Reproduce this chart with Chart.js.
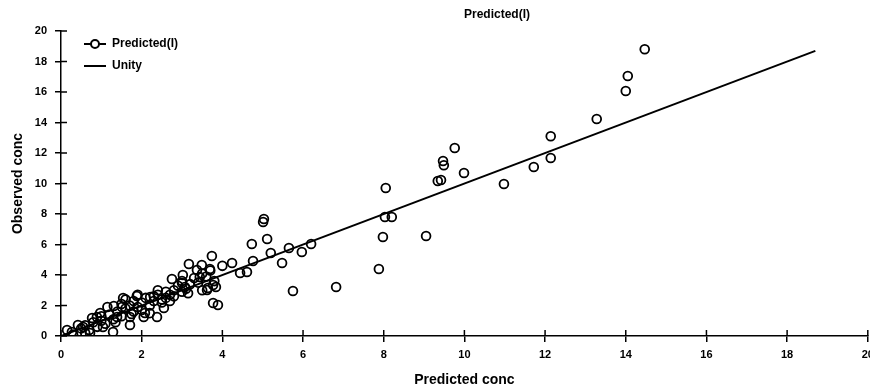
<!DOCTYPE html>
<html>
<head>
<meta charset="utf-8">
<script src="https://cdn.jsdelivr.net/npm/chart.js@4.4.1/dist/chart.umd.min.js"></script>
<style>
html,body{margin:0;padding:0;background:#fff;overflow:hidden;}
#wrap{width:870px;height:389px;position:relative;overflow:hidden;}
</style>
</head>
<body>
<div id="wrap"><canvas id="c" width="874" height="389"></canvas></div>
<script>

// predicted (x) and observed (y) concentrations
let predX = [14.47,14.05,14.0,13.28,12.14,12.14,11.72,10.98,9.99,9.76,9.47,9.49,9.34,9.42,9.05,
8.05,8.03,8.2,7.98,7.88,6.82,5.75,5.65,5.97,6.2,5.48,5.11,5.01,5.03,4.73,5.2,4.76,
4.24,4.44,4.61,3.74,3.17,3.49,3.69,3.77,3.84,3.64,3.62,3.77,3.89,2.75,3.02,3.0,3.07,3.37,3.44,
2.55,2.38,2.08,1.88,2.21,1.54,1.51,1.31,1.71,1.71,1.39,0.97,0.77,1.29,0.72,1.04,0.15,0.27,0.42,0.55,0.89,
0.5,0.6,0.7,0.8,0.9,1.0,1.0,1.1,1.2,1.3,1.4,1.5,1.5,1.6,1.6,1.7,1.8,1.8,1.9,2.0,2.0,2.1,2.2,2.3,2.3,
2.4,2.5,2.5,2.6,2.6,2.7,2.8,2.8,2.9,3.0,3.0,3.1,3.2,3.3,3.4,3.5,3.6,3.7,3.8,2.2,1.9,2.4,0.3,0.6,1.15,
1.35,2.7,3.15,3.5,4.0,1.75,2.05];
let obsY = [18.8,17.05,16.07,14.23,13.1,11.67,11.08,9.97,10.69,12.33,11.48,11.2,10.16,10.23,6.56,
9.7,7.8,7.8,6.49,4.39,3.21,2.95,5.77,5.51,6.03,4.79,6.36,7.48,7.67,6.03,5.44,4.92,
4.79,4.13,4.2,5.25,4.72,4.66,4.39,3.34,3.21,3.15,3.02,2.16,2.03,3.74,4.0,3.48,3.21,4.33,3.87,
1.84,1.25,1.51,2.62,2.56,2.49,1.9,1.97,1.25,0.72,1.25,1.51,1.18,0.26,0.2,0.59,0.39,0.26,0.72,0.59,1.25,
0.5,0.7,0.4,0.9,0.6,1.0,1.3,0.8,1.4,1.1,1.6,1.3,2.1,1.8,2.4,2.0,1.6,2.3,1.9,2.2,1.7,2.5,2.0,2.6,2.3,
2.7,2.4,2.2,2.9,2.5,2.7,3.0,2.6,3.3,2.9,3.6,3.1,3.4,3.8,3.5,4.1,3.9,4.3,3.6,1.5,2.7,3.0,0.1,0.2,1.9,
0.9,2.3,2.8,3.0,4.6,1.45,1.25];

let unityX = [0,18.7];
let xTicks = [0,2,4,6,8,10,12,14,16,18,20];
let yTicks = [0,2,4,6,8,10,12,14,16,18,20];

let font = "'Liberation Sans', Arial, sans-serif";

let points = predX.map(function(x,i){ return {x:x,y:obsY[i]}; });
let unity = unityX.map(function(v){ return {x:v,y:v}; });

/* ticks that cross the axis + title + legend */
let extras = {
id:'extras',
afterDraw:function(chart){
let ctx = chart.ctx;
let xs = chart.scales.x, ys = chart.scales.y;
let area = chart.chartArea;
ctx.save();
ctx.strokeStyle = '#000';
ctx.lineWidth = 1.5;
xTicks.forEach(function(t){
let px = xs.getPixelForValue(t);
ctx.beginPath(); ctx.moveTo(px,area.bottom); ctx.lineTo(px,area.bottom-6); ctx.stroke();
});
yTicks.forEach(function(t){
let py = ys.getPixelForValue(t);
ctx.beginPath(); ctx.moveTo(area.left,py); ctx.lineTo(area.left+6,py); ctx.stroke();
});

// title
ctx.fillStyle = '#000';
ctx.font = "bold 12px " + font;
ctx.textAlign = 'center';
ctx.textBaseline = 'middle';
ctx.fillText('Predicted(I)', 497, 15);

// legend
ctx.textAlign = 'left';
ctx.font = "bold 12px " + font;
ctx.lineWidth = 2;
ctx.beginPath(); ctx.moveTo(84,44); ctx.lineTo(106,44); ctx.stroke();
ctx.beginPath(); ctx.arc(95,44,4,0,Math.PI*2); ctx.fillStyle='#fff'; ctx.fill(); ctx.stroke();
ctx.fillStyle = '#000';
ctx.fillText('Predicted(I)', 112, 44);
ctx.beginPath(); ctx.moveTo(84,66); ctx.lineTo(106,66); ctx.stroke();
ctx.fillText('Unity', 112, 66);
ctx.restore();
}
};

new Chart(document.getElementById('c'),{
type:'scatter',
data:{
datasets:[{
label:'Predicted(I)',
data:points,
pointStyle:'circle',
pointRadius:4.4,
borderColor:'#000',
borderWidth:1.8,
backgroundColor:'rgba(0,0,0,0)',
pointBackgroundColor:'rgba(0,0,0,0)'
},{
type:'line',
label:'Unity',
data:unity,
borderColor:'#000',
borderWidth:2,
pointRadius:0,
fill:false
}]
},
plugins:[extras],
options:{
responsive:false,
animation:false,
devicePixelRatio:1,
layout:{padding:{top:31,right:0,left:0,bottom:0}},
plugins:{
legend:{display:false},
tooltip:{enabled:false}
},
scales:{
x:{
type:'linear',
min:0,max:20,
afterBuildTicks:function(s){ s.ticks = xTicks.map(function(v){ return {value:v}; }); },
afterFit:function(s){ s.height = 53; s.paddingLeft = 0; s.paddingRight = 0; },
grid:{drawOnChartArea:false,drawTicks:true,tickLength:6,color:'#000',lineWidth:1.5},
border:{display:true,color:'#000',width:1.5},
ticks:{color:'#000',padding:6,font:{family:font,size:11,weight:'bold'},maxRotation:0,autoSkip:false},
title:{display:true,text:'Predicted conc',color:'#000',font:{family:font,size:14,weight:'bold'},padding:{top:1,bottom:0}}
},
y:{
type:'linear',
min:0,max:20,
afterBuildTicks:function(s){ s.ticks = yTicks.map(function(v){ return {value:v}; }); },
afterFit:function(s){ s.width = 61; s.paddingTop = 0; s.paddingBottom = 0; },
grid:{drawOnChartArea:false,drawTicks:true,tickLength:6,color:'#000',lineWidth:1.5},
border:{display:true,color:'#000',width:1.5},
ticks:{color:'#000',padding:8,font:{family:font,size:11,weight:'bold'},autoSkip:false},
title:{display:true,text:'Observed conc',color:'#000',font:{family:font,size:14,weight:'bold'},padding:{top:10,bottom:4}}
}
}
}
});
</script>
</body>
</html>
